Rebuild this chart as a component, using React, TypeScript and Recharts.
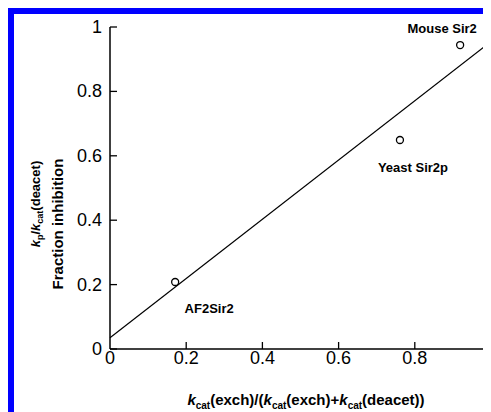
import { ComposedChart, Line, Scatter, XAxis, YAxis } from "recharts";

const enzymeNames = ["AF2Sir2", "Yeast Sir2p", "Mouse Sir2"];
const exchangeFraction = [0.171, 0.761, 0.919];
const fractionInhibition = [0.208, 0.649, 0.944];

const fitX = [0, 1];
const fitY = [0.035, 0.955];

const xTicks = [0, 0.2, 0.4, 0.6, 0.8, 1];
const yTicks = [0, 0.2, 0.4, 0.6, 0.8, 1];

const points = enzymeNames.map((name, i) => ({
  name,
  x: exchangeFraction[i],
  y: fractionInhibition[i]
}));
const fitLine = fitX.map((x, i) => ({ x, y: fitY[i] }));

// label placement relative to each marker (px)
const labelOffset: Record<string, { dx: number; dy: number }> = {
  AF2Sir2: { dx: 34, dy: 31 },
  "Yeast Sir2p": { dx: 13, dy: 32 },
  "Mouse Sir2": { dx: -18, dy: -12 }
};

const font = "'Liberation Sans', Arial, sans-serif";
const W = 520;
const H = 404;
const PLOT_LEFT = 102;
const PLOT_BOTTOM = 341;
const TICK_LEN = 7;

const YTick = (props: any) => {
  const y = props.payload.coordinate;
  return (
    <g>
      <line stroke="#000" strokeWidth={1.3} x1={PLOT_LEFT} x2={PLOT_LEFT + TICK_LEN} y1={y} y2={y} />
      <text dominantBaseline="central" fill="#000" fontFamily={font} fontSize={18} textAnchor="end" x={PLOT_LEFT - 8} y={y}>
        {props.payload.value}
      </text>
    </g>
  );
};

const XTick = (props: any) => {
  const x = props.payload.coordinate;
  return (
    <g>
      {props.payload.value !== 0 && (
        <line stroke="#000" strokeWidth={1.3} x1={x} x2={x} y1={PLOT_BOTTOM} y2={PLOT_BOTTOM - TICK_LEN} />
      )}
      <text fill="#000" fontFamily={font} fontSize={18} textAnchor="middle" x={x} y={PLOT_BOTTOM + 15}>
        {props.payload.value}
      </text>
    </g>
  );
};

const Marker = (props: any) => {
  const off = labelOffset[props.payload.name] ?? { dx: 0, dy: 0 };
  return (
    <g>
      <circle cx={props.cx} cy={props.cy} fill="#fff" r={3.5} stroke="#000" strokeWidth={1.3} />
      <text fill="#000" fontFamily={font} fontSize={13} fontWeight="bold" textAnchor="middle" x={props.cx + off.dx} y={props.cy + off.dy}>
        {props.payload.name}
      </text>
    </g>
  );
};

const Titles = () => (
  <svg height={H} style={{ position: "absolute", left: 0, top: 0, pointerEvents: "none" }} width={483}>
    <text fill="#000" fontFamily={font} fontSize={15} fontWeight="bold" textAnchor="middle" x={298} y={397}>
      <tspan fontStyle="italic">k</tspan>
      <tspan dy={4} fontSize={10}>cat</tspan>
      <tspan dy={-4}>(exch)/(</tspan>
      <tspan fontStyle="italic">k</tspan>
      <tspan dy={4} fontSize={10}>cat</tspan>
      <tspan dy={-4}>(exch)+</tspan>
      <tspan fontStyle="italic">k</tspan>
      <tspan dy={4} fontSize={10}>cat</tspan>
      <tspan dy={-4}>(deacet))</tspan>
    </text>
    <text fill="#000" fontFamily={font} fontSize={13} fontWeight="bold" textAnchor="middle" transform="rotate(-90 32 196)" x={32} y={196}>
      <tspan fontStyle="italic">k</tspan>
      <tspan dy={3} fontSize={9}>p</tspan>
      <tspan dy={-3}>/</tspan>
      <tspan fontStyle="italic">k</tspan>
      <tspan dy={3} fontSize={9}>cat</tspan>
      <tspan dy={-3}>(deacet)</tspan>
    </text>
    <text fill="#000" fontFamily={font} fontSize={15} fontWeight="bold" textAnchor="middle" transform="rotate(-90 55 216)" x={55} y={216}>
      Fraction inhibition
    </text>
  </svg>
);

export default function App() {
  return (
    <div style={{ position: "relative", width: 483, height: H, overflow: "hidden", background: "#fff" }}>
      <div
        style={{
          position: "absolute",
          left: 0,
          top: 0,
          width: 483,
          height: H,
          borderTop: "6.5px solid #0000ff",
          borderLeft: "6.5px solid #0000ff",
          boxSizing: "border-box"
        }}
      />
      <div style={{ position: "absolute", left: 0, top: 0 }}>
        <ComposedChart height={H} margin={{ top: 19, right: 37, bottom: 33, left: 42 }} width={W}>
          <XAxis
            axisLine={{ stroke: "#000", strokeWidth: 1.5 }}
            dataKey="x"
            domain={[0, 1]}
            height={30}
            tick={<XTick />}
            tickLine={false}
            ticks={xTicks}
            type="number"
          />
          <YAxis
            axisLine={{ stroke: "#000", strokeWidth: 1.5 }}
            dataKey="y"
            domain={[0, 1]}
            tick={<YTick />}
            tickLine={false}
            ticks={yTicks}
            type="number"
            width={60}
          />
          <Line
            data={fitLine}
            dataKey="y"
            dot={false}
            isAnimationActive={false}
            stroke="#000"
            strokeWidth={1.2}
            type="linear"
          />
          <Scatter data={points} dataKey="y" isAnimationActive={false} shape={<Marker />} />
        </ComposedChart>
      </div>
      <Titles />
    </div>
  );
}
